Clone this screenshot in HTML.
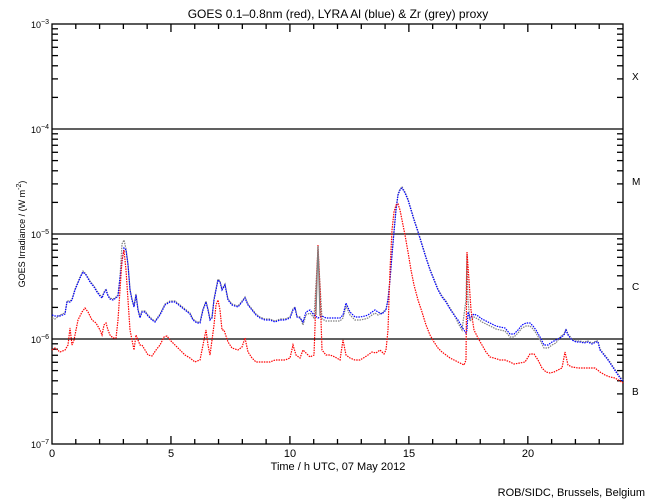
<!DOCTYPE html>
<html><head><meta charset="utf-8"><style>
html,body{margin:0;padding:0;background:#fff;}
svg{display:block;font-family:"Liberation Sans",sans-serif;}
</style></head><body>
<svg id="s" width="650" height="500" xmlns="http://www.w3.org/2000/svg">
<rect width="650" height="500" fill="#fff"/>
<text x="338" y="18" font-size="12" text-anchor="middle">GOES 0.1–0.8nm (red), LYRA Al (blue) &amp; Zr (grey) proxy</text>
<text x="338" y="470" font-size="11" text-anchor="middle">Time / h UTC, 07 May 2012</text>
<text x="645" y="496" font-size="11" text-anchor="end">ROB/SIDC, Brussels, Belgium</text>
<text transform="translate(25,234) rotate(-90)" font-size="9" text-anchor="middle">GOES Irradiance / (W m<tspan dy="-4" font-size="7">-2</tspan><tspan dy="4">)</tspan></text>
<g font-size="11" text-anchor="middle">
<text x="52" y="457">0</text><text x="171" y="457">5</text><text x="290" y="457">10</text><text x="409" y="457">15</text><text x="528" y="457">20</text>
</g>
<g font-size="10">
<text x="632" y="80">X</text><text x="632" y="185">M</text><text x="632" y="290">C</text><text x="632" y="395">B</text>
</g>
<g id="ax" stroke="#000" stroke-width="1.3" fill="none"></g>
<g id="lab" font-size="9" text-anchor="end"></g>
<g id="data" fill="none" stroke-width="1.2"></g>
</svg>
<script>
var ax=document.getElementById('ax'),lab=document.getElementById('lab'),data=document.getElementById('data');
var h='';var L=52,R=623,T=24,B=444,D=105;
h+='<rect x="'+L+'" y="'+T+'" width="'+(R-L)+'" height="'+(B-T)+'"/>';
for(var d=0;d<4;d++){var y0=T+D*(d+1);
 if(d<3)h+='<line x1="'+L+'" y1="'+y0+'" x2="'+R+'" y2="'+y0+'"/>';
 for(var k=2;k<=9;k++){var y=y0-D*Math.log10(k);h+='<line x1="'+L+'" y1="'+y+'" x2="'+(L+6)+'" y2="'+y+'"/><line x1="'+R+'" y1="'+y+'" x2="'+(R-6)+'" y2="'+y+'"/>';}}
for(var i=1;i<24;i++){var x=L+i*(R-L)/24;var l=(i%5==0)?8:5;h+='<line x1="'+x+'" y1="'+B+'" x2="'+x+'" y2="'+(B-l)+'"/><line x1="'+x+'" y1="'+T+'" x2="'+x+'" y2="'+(T+l)+'"/>';}
ax.innerHTML=h;
var ls='';for(var e=3;e<=7;e++){var y=T+D*(e-3);ls+='<text x="49" y="'+(y+4)+'">10<tspan dy="-4" font-size="7">−'+e+'</tspan></text>';}
lab.innerHTML=ls;
var blue=[52,315,55,316,60,316,65,314,67,302,70,302,72,300,75,290,80,278,83,272,86,275,90,282,94,287,97,292,100,296,102,298,104,293,106,290,108,296,110,299,113,300,116,298,118,296,120,278,122,262,124,248,126,250,128,265,130,290,132,300,134,307,136,295,138,310,140,318,142,312,145,312,148,316,152,320,155,322,160,315,165,305,170,302,175,302,180,306,185,310,190,314,193,320,197,323,200,323,203,310,206,302,208,310,210,320,212,318,214,300,216,290,218,280,220,282,222,290,225,285,228,300,232,305,238,307,242,302,245,298,248,305,252,310,256,315,260,318,265,320,270,320,275,322,280,320,285,320,290,318,293,310,295,308,297,317,300,318,303,322,306,312,310,310,314,315,318,318,322,316,326,318,330,318,335,318,340,318,343,315,346,303,350,312,355,317,360,317,365,316,368,315,372,312,375,310,378,312,382,314,386,310,388,300,390,280,392,255,394,232,396,210,398,195,400,190,402,188,405,193,408,200,411,210,414,220,418,232,422,245,426,258,430,270,434,280,438,290,442,297,446,302,450,309,454,315,458,320,462,327,466,333,467,330,468,312,470,318,474,314,478,316,482,319,488,322,492,324,496,326,500,327,505,328,510,334,514,334,518,330,522,325,526,323,530,323,533,326,536,330,540,337,544,345,548,345,552,342,556,340,560,338,564,335,566,330,568,335,572,340,576,342,580,342,584,343,588,342,592,344,596,342,598,342,600,350,604,355,608,360,612,366,616,372,620,378,623,381];
var red=[52,350,55,348,60,352,65,350,68,345,70,328,72,345,74,340,78,320,82,312,85,308,88,312,92,320,96,323,100,330,102,335,104,325,106,323,108,330,110,335,113,338,116,338,118,320,120,290,122,260,124,250,126,270,128,300,130,330,132,340,134,350,136,335,138,340,140,345,142,345,145,350,148,355,152,356,156,350,160,345,164,337,167,336,170,340,175,345,180,350,185,355,190,358,195,362,197,361,200,360,203,345,206,330,208,345,210,355,212,340,214,325,216,305,218,300,220,310,222,330,224,330,228,342,232,348,238,350,242,347,245,338,248,352,252,358,256,362,260,362,265,362,270,362,275,360,280,360,285,360,290,358,293,345,296,355,300,358,303,350,306,353,310,357,314,355,317,270,318,245,320,290,322,350,326,355,330,355,335,357,340,360,343,340,346,355,350,358,355,360,360,360,365,357,368,355,372,352,376,353,380,350,384,354,386,350,388,330,390,270,392,230,394,212,396,205,398,204,400,210,402,220,405,235,408,252,411,270,414,285,418,300,422,312,426,325,430,335,434,342,438,348,442,352,446,355,450,358,454,360,458,362,462,364,464,365,466,360,467,252,469,280,471,310,474,330,478,338,482,345,486,352,490,357,494,358,500,360,505,360,510,362,514,364,520,363,525,362,530,354,534,354,538,360,542,368,546,372,550,373,554,372,558,370,562,368,565,352,568,365,572,367,578,368,585,368,590,368,595,368,600,372,605,375,610,377,615,378,620,381,623,383];
var grey=blue.slice();
for(var i=0;i<grey.length;i+=2){var x=grey[i];if(x<60||(x>300&&x<380)||(x>455&&x<560))grey[i+1]+=3;else grey[i+1]-=1;
 if(x==122)grey[i+1]=244;if(x==124)grey[i+1]=240;if(x==318)grey[i+1]=250;if(x>=466&&x<=468)grey[i+1]=(x==467?255:300);}
grey.splice(grey.length,0);
function pl(a,c){var p='';for(var i=0;i<a.length;i+=2)p+=a[i]+','+a[i+1]+' ';return '<polyline points="'+p+'" stroke="'+c+'" stroke-dasharray="1.5 1"/>';}
data.innerHTML=pl(grey,'#808080')+pl(blue,'#0000ff')+pl(red,'#ff0000')+'<polyline points="316,315 318,246 320,316" stroke="#808080"/>';
</script>
</body></html>
